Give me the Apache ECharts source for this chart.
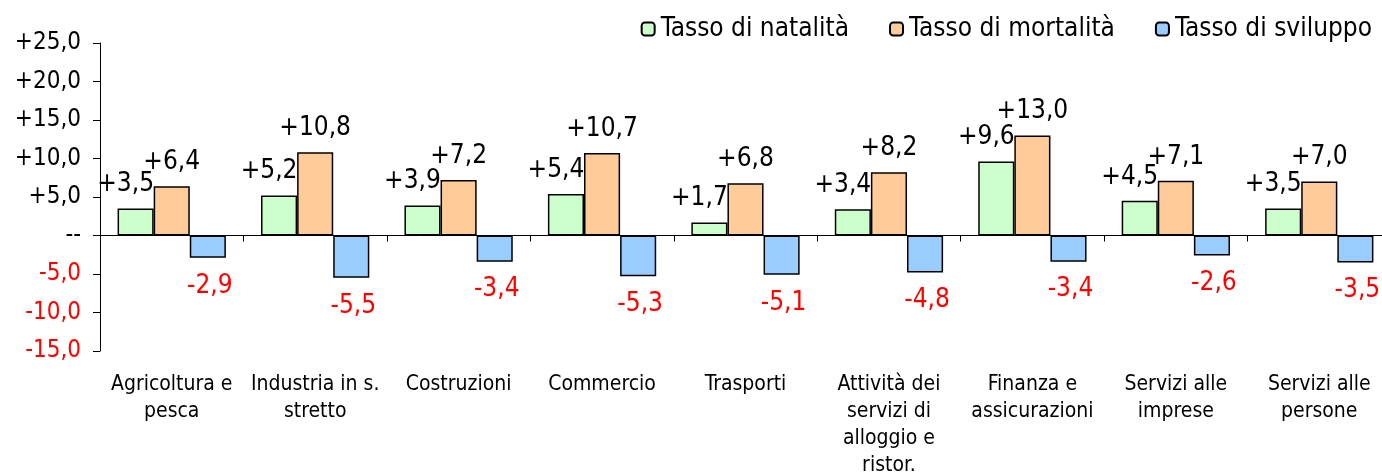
<!DOCTYPE html>
<html><head><meta charset="utf-8">
<script src="https://cdn.jsdelivr.net/npm/echarts@6/dist/echarts.min.js"></script>
<style>html,body{margin:0;padding:0;background:#fff}#c{width:1382px;height:476px}</style>
</head><body><div id="c"></div>
<script>
const categories = ["Agricoltura e\npesca","Industria in s.\nstretto","Costruzioni","Commercio","Trasporti","Attività dei\nservizi di\nalloggio e\nristor.","Finanza e\nassicurazioni","Servizi alle\nimprese","Servizi alle\npersone"];
const natalita = [3.5, 5.2, 3.9, 5.4, 1.7, 3.4, 9.6, 4.5, 3.5];
const mortalita = [6.4, 10.8, 7.2, 10.7, 6.8, 8.2, 13.0, 7.1, 7.0];
const sviluppo = [-2.9, -5.5, -3.4, -5.3, -5.1, -4.8, -3.4, -2.6, -3.5];
const seriesNames = ["Tasso di natalità","Tasso di mortalità","Tasso di sviluppo"];

const fmt = v => (v > 0 ? "+" : "") + v.toFixed(1).replace(".", ",");
const font = '"DejaVu Sans Condensed","DejaVu Sans",sans-serif';

const chart = echarts.init(document.getElementById('c'));
const border = {borderColor:'#000', borderWidth:1.5};
chart.setOption({
  animation:false,
  legend:{
    right:5, top:11, itemWidth:13, itemHeight:13, itemGap:40,
    textStyle:{fontFamily:font, fontSize:26, color:'#000', padding:[0,0,0,1]},
    data:seriesNames
  },
  grid:{left:100, width:1291, top:43, bottom:125, outerBoundsMode:'none', containLabel:false},
  xAxis:[{
    type:'category', data:categories,
    axisLine:{onZero:true, lineStyle:{color:'#000', width:1}},
    axisTick:{show:true, length:6, lineStyle:{color:'#000'}},
    axisLabel:{show:false}
  },{
    type:'category', data:categories, position:'bottom',
    axisLine:{show:false, onZero:false}, axisTick:{show:false},
    axisLabel:{show:true, interval:0, margin:20, fontFamily:font, fontSize:21, lineHeight:27, color:'#000'}
  }],
  yAxis:{
    type:'value', min:-15, max:25, interval:5,
    splitLine:{show:false},
    axisLine:{show:true, lineStyle:{color:'#000', width:1}},
    axisTick:{show:true, length:7, lineStyle:{color:'#000'}},
    axisLabel:{
      margin:19, fontFamily:font, fontSize:24,
      formatter: v => v === 0 ? "--" : fmt(v),
      color: v => (v < 0 ? '#ff0000' : '#000')
    }
  },
  series:[
    {name:seriesNames[0], type:'bar', data:natalita, barGap:'0%', barCategoryGap:'24.5%',
     itemStyle:Object.assign({color:'#ccffcc'}, border),
     label:{show:true, position:'top', distance:11, offset:[-10,0], formatter:p=>fmt(p.value), fontFamily:font, fontSize:26, color:'#000'}},
    {name:seriesNames[1], type:'bar', data:mortalita,
     itemStyle:Object.assign({color:'#ffcc99'}, border),
     label:{show:true, position:'top', distance:11, formatter:p=>fmt(p.value), fontFamily:font, fontSize:26, color:'#000'}},
    {name:seriesNames[2], type:'bar', data:sviluppo,
     itemStyle:Object.assign({color:'#99ccff'}, border),
     label:{show:true, position:'bottom', distance:15, offset:[2,0], formatter:p=>fmt(p.value), fontFamily:font, fontSize:26, color:'#ff0000'}}
  ]
});
</script></body></html>
